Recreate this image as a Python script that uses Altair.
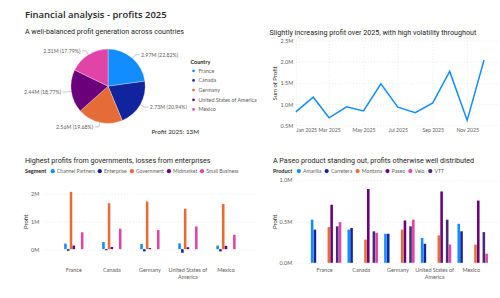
import altair as alt
import pandas as pd

# ---------------- data ----------------
countries = ["France", "Canada", "Germany", "United States of America", "Mexico"]
country_colors = ["#118DFF", "#12239E", "#E66C37", "#6B007B", "#E044A7"]
country_profit = [2969800, 2725100, 2561200, 2442700, 2314900]

months = ["2025-01-01", "2025-02-01", "2025-03-01", "2025-04-01", "2025-05-01", "2025-06-01",
          "2025-07-01", "2025-08-01", "2025-09-01", "2025-10-01", "2025-11-01", "2025-12-01"]
monthly_profit = [820000, 1165000, 680000, 940000, 840000, 1480000,
                  930000, 800000, 1030000, 1770000, 620000, 2040000]

segments = ["Channel Partners", "Enterprise", "Government", "Midmarket", "Small Business"]
segment_colors = ["#118DFF", "#12239E", "#E66C37", "#6B007B", "#E044A7"]
seg_channel_partners = [200000, 260000, 190000, 210000, 130000]
seg_enterprise = [-60000, -40000, -80000, -130000, -80000]
seg_government = [2070000, 1660000, 1720000, 1460000, 1630000]
seg_midmarket = [130000, 80000, 40000, 70000, 120000]
seg_small_business = [610000, 740000, 690000, 820000, 520000]

products = ["Amarilla", "Carretera", "Montana", "Paseo", "Velo", "VTT"]
product_colors = ["#118DFF", "#12239E", "#E66C37", "#6B007B", "#E044A7", "#45297A"]
prod_amarilla = [520000, 400000, 350000, 300000, 470000]
prod_carretera = [400000, 420000, 350000, 230000, 380000]
prod_montana = [430000, 280000, 400000, 330000, 220000]
prod_paseo = [700000, 890000, 510000, 860000, 750000]
prod_velo = [490000, 360000, 520000, 220000, 110000]
prod_vtt = [440000, 380000, 440000, 520000, 370000]

# ---------------- tables ----------------
pie_df = pd.DataFrame({"Country": countries, "Profit": country_profit,
                       "idx": list(range(len(countries)))})
line_df = pd.DataFrame({"Month": months, "Profit": monthly_profit})

seg_rows = []
for seg, vals in zip(segments, [seg_channel_partners, seg_enterprise, seg_government,
                                seg_midmarket, seg_small_business]):
    for c, v in zip(countries, vals):
        seg_rows.append({"Country": c, "Segment": seg, "Profit": v})
seg_df = pd.DataFrame(seg_rows)

prod_rows = []
for prod, vals in zip(products, [prod_amarilla, prod_carretera, prod_montana,
                                 prod_paseo, prod_velo, prod_vtt]):
    for c, v in zip(countries, vals):
        prod_rows.append({"Country": c, "Product": prod, "Profit": v})
prod_df = pd.DataFrame(prod_rows)

FONT = "Lato"
TITLE_FONT = "Roboto"
HEAD_FONT = "Open Sans"
LABEL_GRAY = "#605E5C"
DARK = "#252423"
TITLE_SIZE = 7.2

# ---------------- pie panel ----------------
# plot box is 218.3 x 85.4 px; scales are in pixel units around the pie centre
PIE_W, PIE_H = 218.3, 85.4
CX, CY = 65.5, 46.0
R = 37.3
R_OUT = 42.0

pie_base = alt.Chart(pie_df).transform_joinaggregate(
    total="sum(Profit)"
).transform_window(
    cum="sum(Profit)", sort=[alt.SortField("idx")], frame=[None, 0]
).transform_calculate(
    mid="(datum.cum - datum.Profit / 2) / datum.total * 2 * PI",
    share="datum.Profit / datum.total",
).transform_calculate(
    label="format(datum.Profit / 1e6, '.2f') + 'M (' + format(datum.share * 100, '.2f') + '%)'",
    sx="sin(datum.mid)",
    px1=f"{R} * sin(datum.mid)",
    py1=f"{R} * cos(datum.mid)",
    px2=f"{R_OUT} * sin(datum.mid)",
    py2=f"{R_OUT} * cos(datum.mid)",
).transform_calculate(
    px3="datum.px2 + (datum.sx >= 0 ? 4 : -4)",
).transform_calculate(
    tx="datum.px3 + (datum.sx >= 0 ? 1.5 : -1.5)",
)

xs = alt.Scale(domain=[-CX, PIE_W - CX], nice=False, zero=False)
ys = alt.Scale(domain=[CY - PIE_H, CY], nice=False, zero=False)

arcs = pie_base.mark_arc(outerRadius=R, stroke="white", strokeWidth=0.3).encode(
    x=alt.X(datum=0, scale=xs, axis=None),
    y=alt.Y(datum=0, scale=ys, axis=None),
    theta=alt.Theta("Profit:Q", stack=True),
    order=alt.Order("idx:Q"),
    color=alt.Color(
        "Country:N",
        scale=alt.Scale(domain=countries, range=country_colors),
        legend=alt.Legend(
            title="Country", orient="none", legendX=148.3, legendY=19.5,
            titleFontWeight="bold", titlePadding=2.5, rowPadding=-2.3,
            labelOffset=2, symbolSize=18,
        ),
    ),
)

leader1 = pie_base.mark_rule(color="#A19F9D", strokeWidth=0.6).encode(
    x=alt.X("px1:Q", scale=xs, axis=None),
    y=alt.Y("py1:Q", scale=ys, axis=None),
    x2="px2:Q", y2="py2:Q",
)
leader2 = pie_base.mark_rule(color="#A19F9D", strokeWidth=0.6).encode(
    x=alt.X("px2:Q", scale=xs, axis=None),
    y=alt.Y("py2:Q", scale=ys, axis=None),
    x2="px3:Q", y2="py2:Q",
)
labels_r = pie_base.transform_filter("datum.sx >= 0").mark_text(
    align="left", baseline="middle", font=FONT, fontSize=5.3, color=LABEL_GRAY
).encode(
    x=alt.X("tx:Q", scale=xs, axis=None), y=alt.Y("py2:Q", scale=ys, axis=None), text="label:N"
)
labels_l = pie_base.transform_filter("datum.sx < 0").mark_text(
    align="right", baseline="middle", font=FONT, fontSize=5.3, color=LABEL_GRAY
).encode(
    x=alt.X("tx:Q", scale=xs, axis=None), y=alt.Y("py2:Q", scale=ys, axis=None), text="label:N"
)
total_text = alt.Chart(pie_df).transform_aggregate(
    total="sum(Profit)"
).transform_calculate(
    txt="'Profit 2025: ' + format(datum.total / 1e6, '.0f') + 'M'"
).mark_text(
    align="left", baseline="middle", font=FONT, fontSize=6.3, color=DARK
).encode(x=alt.value(109), y=alt.value(91.7), text="txt:N")

pie_panel = alt.layer(arcs, leader1, leader2, labels_r, labels_l, total_text).properties(
    width=PIE_W, height=PIE_H,
    title=alt.TitleParams("A well-balanced profit generation across countries",
                          anchor="start", frame="group", dx=-18, font=TITLE_FONT,
                          fontSize=TITLE_SIZE, fontWeight="normal", color=DARK, offset=5),
)

# ---------------- line panel ----------------
line_panel = alt.Chart(line_df).mark_line(color="#118DFF", strokeWidth=1.5).encode(
    x=alt.X(
        "Month:T",
        scale=alt.Scale(type="utc", domain=[alt.DateTime(year=2025, month=1, date=1, utc=True),
                                            alt.DateTime(year=2025, month=12, date=24, utc=True)]),
        axis=alt.Axis(
            values=[alt.DateTime(year=2025, month=m, date=1, utc=True) for m in [1, 3, 5, 7, 9, 11]],
            labelExpr="utcFormat(datum.value, '%b %Y')", title=None, labelPadding=2, grid=True,
            labelOverlap=False, labelFontSize=5.2,
        ),
    ),
    y=alt.Y(
        "Profit:Q",
        scale=alt.Scale(domain=[500000, 2500000], nice=False, zero=False),
        axis=alt.Axis(values=[500000, 1000000, 1500000, 2000000, 2500000],
                      labelExpr="format(datum.value / 1e6, '.1f') + 'M'",
                      title="Sum of Profit", titlePadding=3, labelPadding=3),
    ),
).properties(
    width=202, height=85.4,
    title=alt.TitleParams("Slightly increasing profit over 2025, with high volatility throughout",
                          anchor="start", frame="group", dx=-26.3, font=TITLE_FONT,
                          fontSize=TITLE_SIZE, fontWeight="normal", color=DARK, offset=2),
)

# ---------------- bar panels ----------------
x_label_expr = ("datum.label == 'United States of America' ? "
                "['United States of', 'America'] : datum.label")

seg_panel = alt.Chart(seg_df).mark_bar().encode(
    x=alt.X("Country:N", sort=countries,
            scale=alt.Scale(paddingInner=0.2, paddingOuter=0.414),
            axis=alt.Axis(title=None, labelAngle=0, labelExpr=x_label_expr, labelPadding=5,
                          labelLineHeight=6.5, grid=False)),
    xOffset=alt.XOffset("Segment:N", sort=segments, scale=alt.Scale(paddingInner=0.08)),
    y=alt.Y("Profit:Q", scale=alt.Scale(domain=[-493000, 2504000], nice=False),
            axis=alt.Axis(values=[0, 1000000, 2000000],
                          labelExpr="format(datum.value / 1e6, '.0f') + 'M'",
                          title="Profit", titlePadding=2, labelPadding=4)),
    color=alt.Color("Segment:N", scale=alt.Scale(domain=segments, range=segment_colors),
                    legend=alt.Legend(title="Segment", orient="none", direction="horizontal",
                                      legendX=-18, legendY=-12.2, titleOrient="left",
                                      titleFontWeight="bold", columnPadding=1.2,
                                      labelOffset=1.2, symbolSize=18, titlePadding=3,
                                      labelFontSize=5.1)),
).properties(
    width=215, height=83.3,
    title=alt.TitleParams("Highest profits from governments, losses from enterprises",
                          anchor="start", frame="group", dx=-18, font=TITLE_FONT,
                          fontSize=TITLE_SIZE, fontWeight="normal", color=DARK, offset=4),
)

prod_panel = alt.Chart(prod_df).mark_bar().encode(
    x=alt.X("Country:N", sort=countries,
            scale=alt.Scale(paddingInner=0.25, paddingOuter=0.41),
            axis=alt.Axis(title=None, labelAngle=0, labelExpr=x_label_expr, labelPadding=5,
                          labelLineHeight=6.5, grid=False)),
    xOffset=alt.XOffset("Product:N", sort=products, scale=alt.Scale(paddingInner=0.06)),
    y=alt.Y("Profit:Q", scale=alt.Scale(domain=[0, 1000000], nice=False),
            axis=alt.Axis(values=[0, 500000, 1000000],
                          labelExpr="format(datum.value / 1e6, '.1f') + 'M'",
                          title="Profit", titlePadding=2, labelPadding=4)),
    color=alt.Color("Product:N", scale=alt.Scale(domain=products, range=product_colors),
                    legend=alt.Legend(title="Product", orient="none", direction="horizontal",
                                      legendX=-23, legendY=-12.2, titleOrient="left",
                                      titleFontWeight="bold", columnPadding=2,
                                      labelOffset=1.2, symbolSize=18, titlePadding=3,
                                      labelFontSize=5.2)),
).properties(
    width=205, height=83.3,
    title=alt.TitleParams("A Paseo product standing out, profits otherwise well distributed",
                          anchor="start", frame="group", dx=-23, font=TITLE_FONT,
                          fontSize=TITLE_SIZE, fontWeight="normal", color=DARK, offset=4),
)

# ---------------- dashboard ----------------
chart = alt.concat(
    pie_panel, line_panel, seg_panel, prod_panel,
    columns=2, spacing={"row": 54, "column": 35}, bounds="flush", align="none",
).resolve_scale(
    color="independent", x="independent", y="independent"
).properties(
    title=alt.TitleParams("Financial analysis - profits 2025", anchor="start", frame="group",
                          dx=-18, font=HEAD_FONT, fontSize=9.5, fontWeight=600,
                          color=DARK, offset=9),
    padding={"left": 22, "top": 9, "right": 0, "bottom": 0},
    background="white",
).configure_view(stroke=None).configure_axis(
    labelFont=FONT, labelFontSize=5.5, labelColor=LABEL_GRAY,
    titleFont=FONT, titleFontSize=6, titleColor="#404040", titleFontWeight="normal",
    gridColor="#E1E1E1", gridDash=[1, 2], gridWidth=0.7,
    domain=False, ticks=False,
).configure_legend(
    labelFont=FONT, labelFontSize=5.4, labelColor=LABEL_GRAY,
    titleFont=FONT, titleFontSize=5.5, titleColor=DARK, symbolType="circle",
)

chart.save("out.html", embed_options={"renderer": "svg", "actions": False})
